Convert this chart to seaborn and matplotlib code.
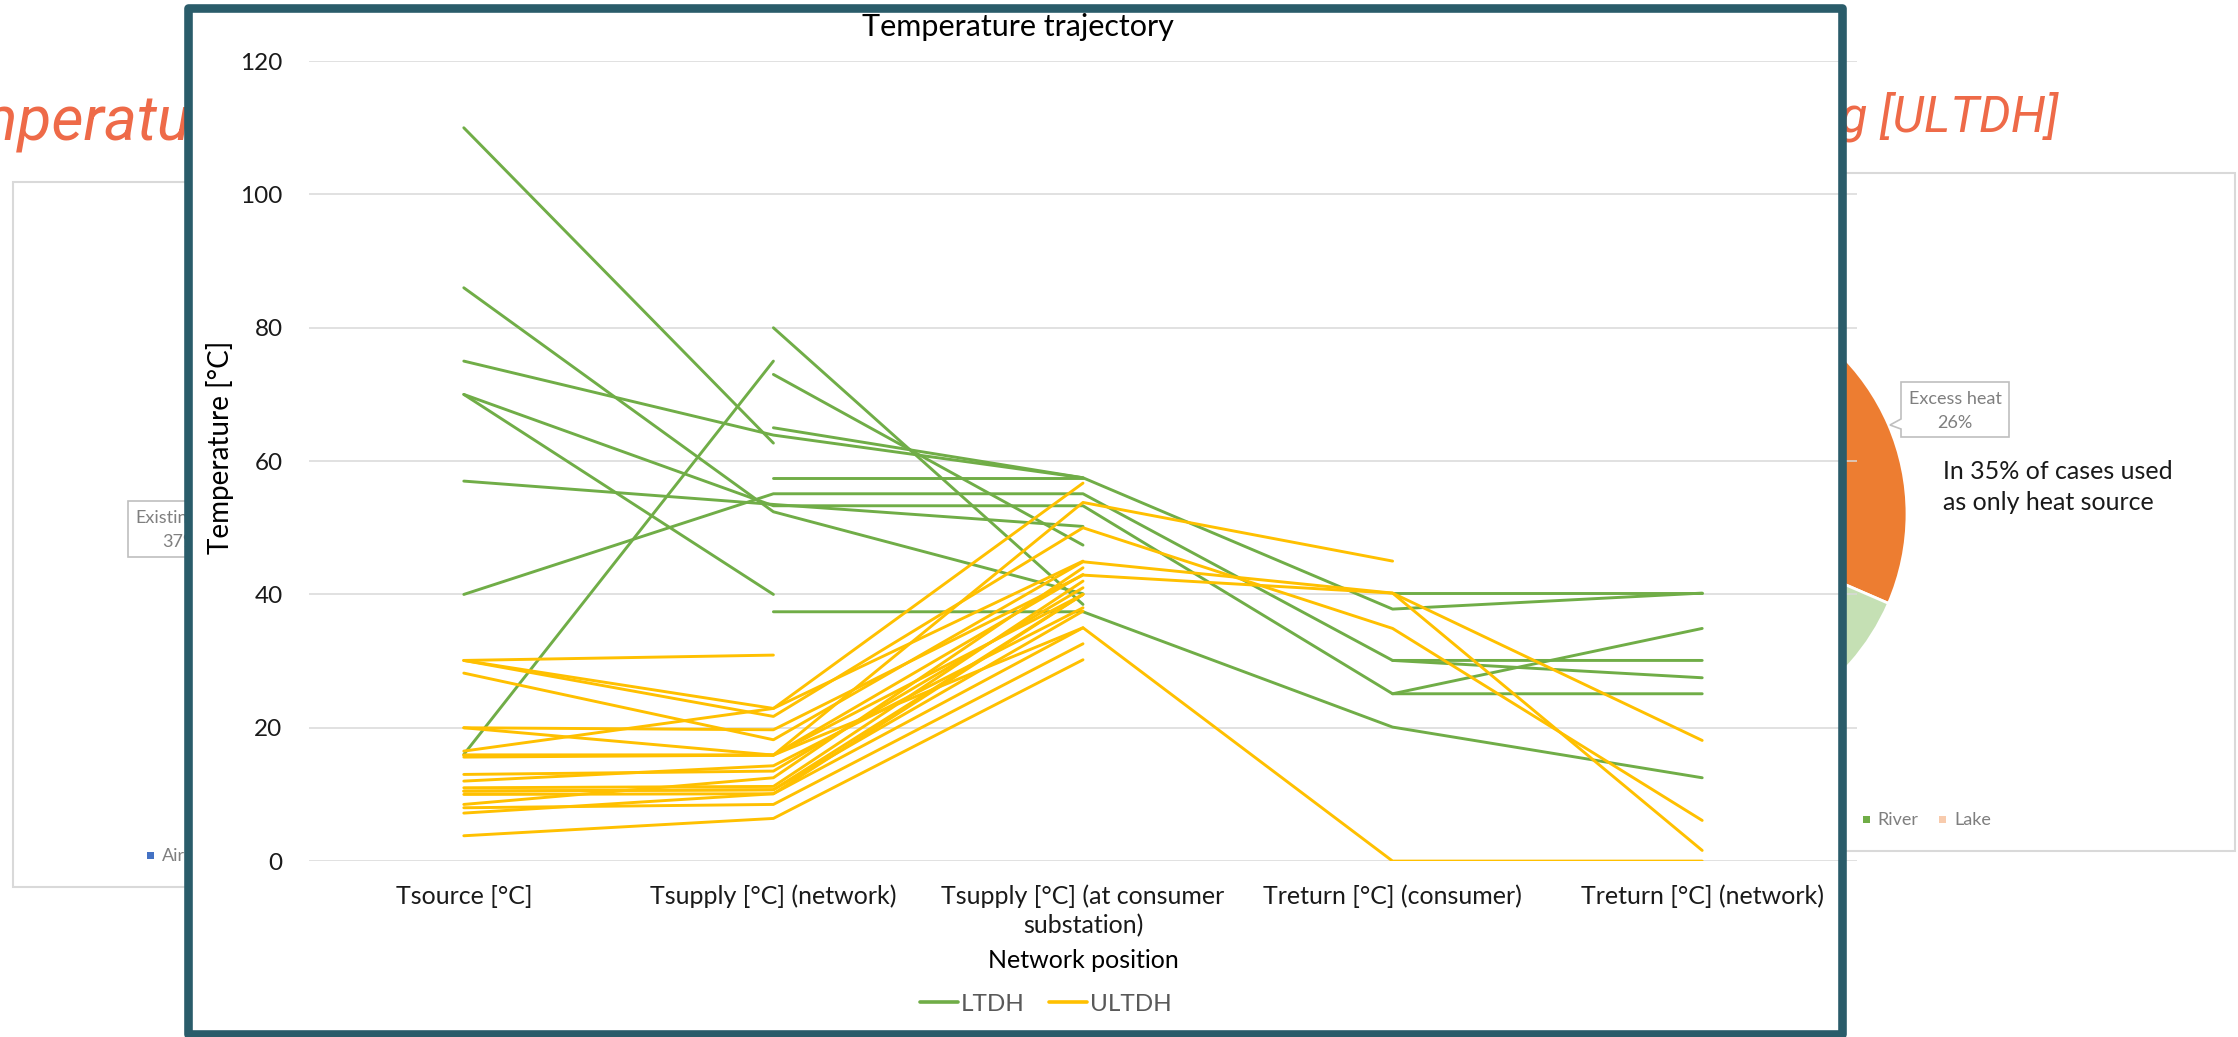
import numpy as np
import pandas as pd
import matplotlib
matplotlib.use("Agg")
import matplotlib.pyplot as plt
import seaborn as sns
from matplotlib.patches import Rectangle, Polygon
from matplotlib.lines import Line2D

# ---------------------------------------------------------------------------
# Data
# ---------------------------------------------------------------------------
positions = [
    "Tsource [°C]",
    "Tsupply [°C] (network)",
    "Tsupply [°C] (at consumer\nsubstation)",
    "Treturn [°C] (consumer)",
    "Treturn [°C] (network)",
]
nan = np.nan

# one row per network, one column per position (nan = not reported)
ltdh_cases = [
    [110.0, 62.7, nan, nan, nan],
    [86.0, 52.4, 40.1, nan, nan],
    [75.0, 63.9, 57.5, 37.8, 40.2],
    [70.0, 53.3, 53.3, 25.1, 25.1],
    [70.0, 40.0, nan, nan, nan],
    [57.0, 53.5, 50.2, nan, nan],
    [40.0, 55.1, 55.1, 30.1, 30.1],
    [16.0, 75.0, nan, nan, nan],
    [nan, 80.0, 38.5, nan, nan],
    [nan, 73.0, 47.4, nan, nan],
    [nan, 65.0, 57.5, nan, nan],
    [nan, 57.5, 57.5, nan, nan],
    [nan, 37.4, 37.4, 20.1, 12.5],
    [nan, nan, nan, 40.2, 40.2],
    [nan, nan, nan, 30.1, 27.5],
    [nan, nan, nan, 25.1, 34.9],
]
ultdh_cases = [
    [30.1, 30.9, nan, nan, nan],
    [30.1, 22.9, 56.7, nan, nan],
    [30.1, 21.7, 50.0, 34.9, 6.1],
    [28.2, 18.2, 44.9, 40.2, 18.1],
    [20.0, 19.7, 42.9, 40.2, 1.6],
    [20.0, 15.9, 53.8, 45.0, nan],
    [16.5, 22.9, 45.0, nan, nan],
    [15.9, 15.9, 43.0, nan, nan],
    [15.9, 15.9, 40.0, nan, nan],
    [15.6, 15.9, 35.0, 0.0, 0.0],
    [13.0, 13.5, 41.0, nan, nan],
    [12.0, 14.3, 38.0, nan, nan],
    [11.0, 11.2, 42.0, nan, nan],
    [10.5, 10.7, 37.5, nan, nan],
    [10.5, 10.7, 40.0, nan, nan],
    [10.0, 10.1, 35.0, nan, nan],
    [8.5, 12.5, 44.0, nan, nan],
    [8.0, 8.5, 32.6, nan, nan],
    [7.2, 10.1, 40.0, nan, nan],
    [3.8, 6.4, 30.2, nan, nan],
]
systems = ["LTDH", "ULTDH"]
y_ticks = [0, 20, 40, 60, 80, 100, 120]

# background slide: heat-source pie (right)
pie_shares = [26, 10, 64]
pie_callout = ["Excess heat", "26%"]
side_note = "In 35% of cases used\nas only heat source"

# ---------------------------------------------------------------------------
# Long-form table for seaborn
# ---------------------------------------------------------------------------
rows = []
for system, cases in zip(systems, [ltdh_cases, ultdh_cases]):
    for i, case in enumerate(cases):
        for p, t in enumerate(case):
            if not np.isnan(t):
                rows.append({"system": system, "case": f"{system}-{i}",
                             "position": p, "temperature": t})
df = pd.DataFrame(rows)

# ---------------------------------------------------------------------------
# Figure
# ---------------------------------------------------------------------------
W, H = 2238, 1037
sns.set_theme(style="white")
plt.rcParams["font.family"] = ["Lato", "DejaVu Sans"]

fig = plt.figure(figsize=(W / 100, H / 100), dpi=100)
fig.patch.set_facecolor("white")


def fx(px):
    return px / W


def fy(py):
    return 1 - py / H


orange = "#EE6A48"
grey_txt = "#7F7F7F"
title_font = dict(family=["Roboto", "DejaVu Sans"], style="italic", color=orange)

# --- slide titles behind the chart -----------------------------------------
renderer = fig.canvas.get_renderer()
left_title = "Low temperature district heating [LTDH]"
probe = fig.text(0, 0, "Low te", size=45, **title_font)
prefix_w = probe.get_window_extent(renderer).width
probe.remove()
fig.text(fx(-36 - prefix_w), fy(140), left_title, ha="left", va="baseline",
         size=45, zorder=0.3, **title_font)
fig.text(fx(2058), fy(132), "Ultra-low temperature district heating [ULTDH]",
         ha="right", va="baseline", size=36, zorder=0.3, **title_font)

# --- left pie chart frame ------------------------------------------------------
fig.add_artist(Rectangle((fx(13), fy(887)), fx(1000) - fx(13), fy(182) - fy(887),
                         transform=fig.transFigure, facecolor="white",
                         edgecolor="#D9D9D9", lw=1.5, zorder=0.2))
fig.add_artist(Rectangle((fx(128), fy(557)), fx(400) - fx(128), fy(501) - fy(557),
                         transform=fig.transFigure, facecolor="white",
                         edgecolor="#BFBFBF", lw=1.2, zorder=0.25))
fig.text(fx(135), fy(518), "Existing", ha="left", va="center", size=13,
         color=grey_txt, zorder=0.3)
fig.text(fx(162), fy(542), "37%", ha="left", va="center", size=13,
         color=grey_txt, zorder=0.3)
fig.add_artist(Rectangle((fx(147), fy(859)), fx(7), fy(0) - fy(7),
                         transform=fig.transFigure, facecolor="#4472C4",
                         edgecolor="none", zorder=0.3))
fig.text(fx(162), fy(856), "Air", ha="left", va="center", size=13,
         color=grey_txt, zorder=0.3)

# --- right pie chart frame -------------------------------------------------------
fig.add_artist(Rectangle((fx(1300), fy(851)), fx(2235) - fx(1300), fy(173) - fy(851),
                         transform=fig.transFigure, facecolor="white",
                         edgecolor="#D9D9D9", lw=1.5, zorder=0.2))
pie_ax = fig.add_axes([fx(1457), fy(739), fx(450), 450 / H], zorder=0.4)
pie_ax.pie(pie_shares, colors=["#ED7D31", "#C5E0B4", "#A5A5A5"],
           startangle=70.2, counterclock=False,
           wedgeprops=dict(edgecolor="white", linewidth=2))
pie_ax.set_xlim(-1, 1)
pie_ax.set_ylim(-1, 1)
pie_ax.set_aspect("auto")
pie_ax.axis("off")

callout = [(1901, 382), (2009, 382), (2009, 437), (1901, 437), (1901, 429),
           (1890, 425), (1901, 419)]
fig.add_artist(Polygon([(fx(a), fy(b)) for a, b in callout], closed=True,
                       transform=fig.transFigure, facecolor="white",
                       edgecolor="#BFBFBF", lw=1.2, zorder=0.5))
fig.text(fx(1955), fy(399), pie_callout[0], ha="center", va="center", size=13,
         color=grey_txt, zorder=0.6)
fig.text(fx(1955), fy(423), pie_callout[1], ha="center", va="center", size=13,
         color=grey_txt, zorder=0.6)
fig.text(fx(1943), fy(487), side_note, ha="left", va="center", size=18,
         color="#1A1A1A", linespacing=1.45, zorder=0.6)
fig.add_artist(Rectangle((fx(1863), fy(823)), fx(7), fy(0) - fy(7),
                         transform=fig.transFigure, facecolor="#70AD47",
                         edgecolor="none", zorder=0.3))
fig.text(fx(1877), fy(820), "River", ha="left", va="center", size=13,
         color=grey_txt, zorder=0.3)
fig.add_artist(Rectangle((fx(1939), fy(823)), fx(7), fy(0) - fy(7),
                         transform=fig.transFigure, facecolor="#F8CBAD",
                         edgecolor="none", zorder=0.3))
fig.text(fx(1954), fy(820), "Lake", ha="left", va="center", size=13,
         color=grey_txt, zorder=0.3)

# --- chart card ---------------------------------------------------------------
card_x0, card_x1, card_y0, card_y1 = 187.5, 1841.5, 8.3, 1034
fig.add_artist(Rectangle((fx(card_x0), fy(card_y1)), fx(card_x1) - fx(card_x0),
                         fy(card_y0) - fy(card_y1), transform=fig.transFigure,
                         facecolor="white", edgecolor="none", zorder=1))
fig.add_artist(Rectangle((fx(card_x0), fy(card_y1)), fx(card_x1) - fx(card_x0),
                         fy(card_y0) - fy(card_y1), transform=fig.transFigure,
                         facecolor="none", edgecolor="#2A5C6A", lw=6.2,
                         joinstyle="round", zorder=6))

# --- line chart -----------------------------------------------------------------
ax_left, ax_right, ax_top, ax_bottom = 309, 1857, 61.1, 861.1
ax = fig.add_axes([fx(ax_left), fy(ax_bottom), fx(ax_right - ax_left),
                   (ax_bottom - ax_top) / H], zorder=2)
ax.patch.set_alpha(0)

palette = {"LTDH": "#70AD47", "ULTDH": "#FFC000"}
sns.lineplot(data=df, x="position", y="temperature", hue="system",
             hue_order=systems, units="case", estimator=None, sort=False,
             palette=palette, linewidth=2.1, legend=False, ax=ax)

ax.set_xlim(-0.5, 4.5)
ax.set_ylim(0, 120)
ax.set_yticks(y_ticks)
ax.set_xticks(range(len(positions)))
ax.set_xticklabels(positions, linespacing=1.3)
ax.grid(axis="y", color="#D9D9D9", lw=1.1)
ax.grid(axis="x", visible=False)
ax.set_axisbelow(True)
for s in ax.spines.values():
    s.set_visible(False)
ax.tick_params(axis="x", length=0, pad=17, labelsize=18, labelcolor="#1A1A1A")
ax.tick_params(axis="y", length=0, pad=19, labelsize=17.5, labelcolor="#1A1A1A")
ax.set_xlabel("")
ax.set_ylabel("")

fig.text(fx(1018), fy(27), "Temperature trajectory", ha="center", va="center",
         size=22, color="#000000", zorder=3)
fig.text(fx(220), fy(447), "Temperature [°C]", ha="center", va="center",
         rotation=90, size=20, color="#000000", zorder=3)
fig.text(fx(1083), fy(960), "Network position", ha="center", va="center",
         size=18, color="#000000", zorder=3)

handles = [Line2D([0], [0], color=palette[s], lw=2.6) for s in systems]
leg = fig.legend(handles, systems, loc="center", ncol=2, frameon=False,
                 bbox_to_anchor=(fx(1046), fy(1004)), fontsize=17.5,
                 handlelength=1.55, handletextpad=0.12, columnspacing=1.0,
                 labelcolor="#595959")
leg.set_zorder(3)

fig.savefig("out.png", dpi=100, facecolor="white")
